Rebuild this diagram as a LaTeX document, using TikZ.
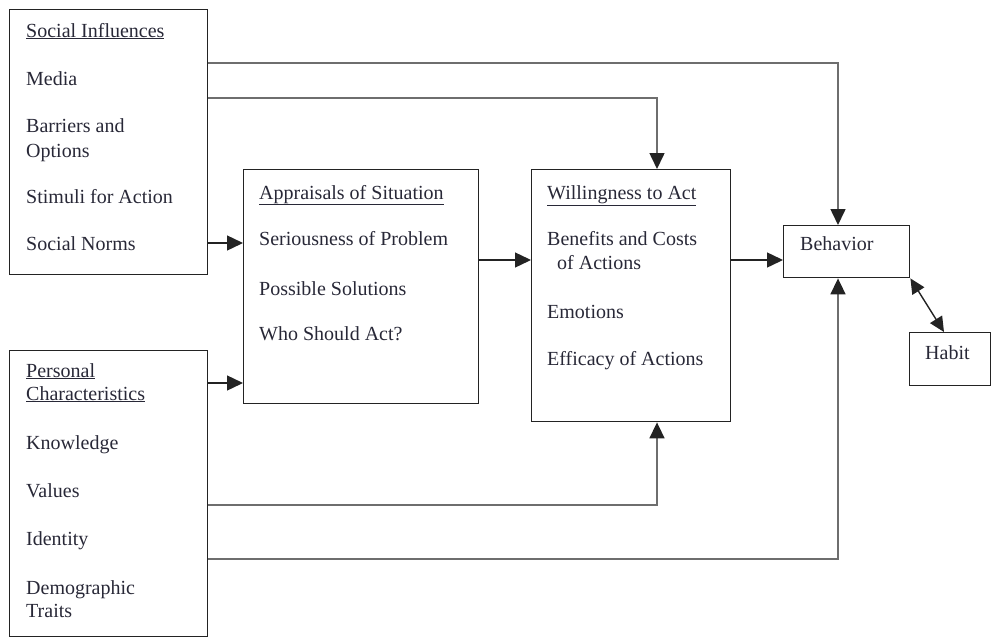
\documentclass[tikz,border=0pt]{standalone}
\usepackage{fontspec}
\setmainfont{Liberation Serif}
\usetikzlibrary{arrows.meta}
\definecolor{boxc}{RGB}{35,35,35}
\definecolor{linec}{RGB}{110,110,110}
\definecolor{txtc}{RGB}{40,40,55}
\begin{document}
\begin{tikzpicture}[x=1pt,y=-1pt,
  box/.style={draw=boxc,line width=1.4pt,inner sep=0pt,anchor=north west},
  lbl/.style={anchor=base west,inner sep=0pt,text=txtc,font=\fontsize{20}{24}\selectfont},
  conn/.style={draw=boxc,line width=1.4pt,-{Triangle[length=16pt,width=15pt]}},
  gconn/.style={draw=linec,line width=1.6pt,-{Triangle[length=16pt,width=15pt,color=boxc,fill=boxc]}},
  dconn/.style={draw=boxc,line width=1.4pt,{Triangle[length=15pt,width=14pt]}-{Triangle[length=15pt,width=14pt]}}]
\useasboundingbox (0,0) rectangle (995,637);
% boxes
\node[box,minimum width=198pt,minimum height=265pt] (soc) at (9,9) {};
\node[box,minimum width=198pt,minimum height=286pt] (per) at (9,350) {};
\node[box,minimum width=235pt,minimum height=234pt] (app) at (243,169) {};
\node[box,minimum width=199pt,minimum height=252pt] (wil) at (531,169) {};
\node[box,minimum width=126pt,minimum height=52pt] (beh) at (783,225) {};
\node[box,minimum width=81pt,minimum height=53pt] (hab) at (909,332) {};
% social texts
\node[lbl] (t1) at (26,37) {\underline{Social Influences}};
\node[lbl] (t2) at (26,85) {Media};
\node[lbl] (t3) at (26,132) {Barriers and};
\node[lbl] (t4) at (26,157) {Options};
\node[lbl] (t5) at (26,203) {Stimuli for Action};
\node[lbl] (t6) at (26,250) {Social Norms};
% personal texts
\node[lbl] (p1) at (26,377) {\underline{Personal}};
\node[lbl] (p2) at (26,400) {\underline{Characteristics}};
\node[lbl] (p3) at (26,449) {Knowledge};
\node[lbl] (p4) at (26,497) {Values};
\node[lbl] (p5) at (26,545) {Identity};
\node[lbl] (p6) at (26,594) {Demographic};
\node[lbl] (p7) at (26,617) {Traits};
% appraisals
\node[lbl] (a1) at (259,199) {\underline{Appraisals of Situation}};
\node[lbl] (a2) at (259,245) {Seriousness of Problem};
\node[lbl] (a3) at (259,295) {Possible Solutions};
\node[lbl] (a4) at (259,340) {Who Should Act?};
% willingness
\node[lbl] (w1) at (547,199) {\underline{Willingness to Act}};
\node[lbl] (w2) at (547,245) {Benefits and Costs};
\node[lbl] (w3) at (557,269) {of Actions};
\node[lbl] (w4) at (547,318) {Emotions};
\node[lbl] (w5) at (547,365) {Efficacy of Actions};
% behavior, habit
\node[lbl] (b1) at (800,250) {Behavior};
\node[lbl] (h1) at (925,359) {Habit};
% coordinates for routing
\coordinate (k1) at (838,63);
\coordinate (k2) at (657,98);
\coordinate (k3) at (0,243);
\coordinate (k4) at (0,383);
\coordinate (k5) at (0,260);
\coordinate (k7) at (657,505);
\coordinate (k8) at (838,559);
% connectors
\draw[gconn] (soc.east |- k1) -- (k1) -- (k1 |- beh.north);
\draw[gconn] (soc.east |- k2) -- (k2) -- (k2 |- wil.north);
\draw[conn] (soc.east |- k3) -- (app.west |- k3);
\draw[conn] (per.east |- k4) -- (app.west |- k4);
\draw[conn] (app.east |- k5) -- (wil.west |- k5);
\draw[conn] (wil.east |- k5) -- (beh.west |- k5);
\draw[gconn] (per.east |- k7) -- (k7) -- (k7 |- wil.south);
\draw[gconn] (per.east |- k8) -- (k8) -- (k8 |- beh.south);
\draw[dconn] (beh.south east) -- ([xshift=35pt]hab.north west);
\end{tikzpicture}
\end{document}
